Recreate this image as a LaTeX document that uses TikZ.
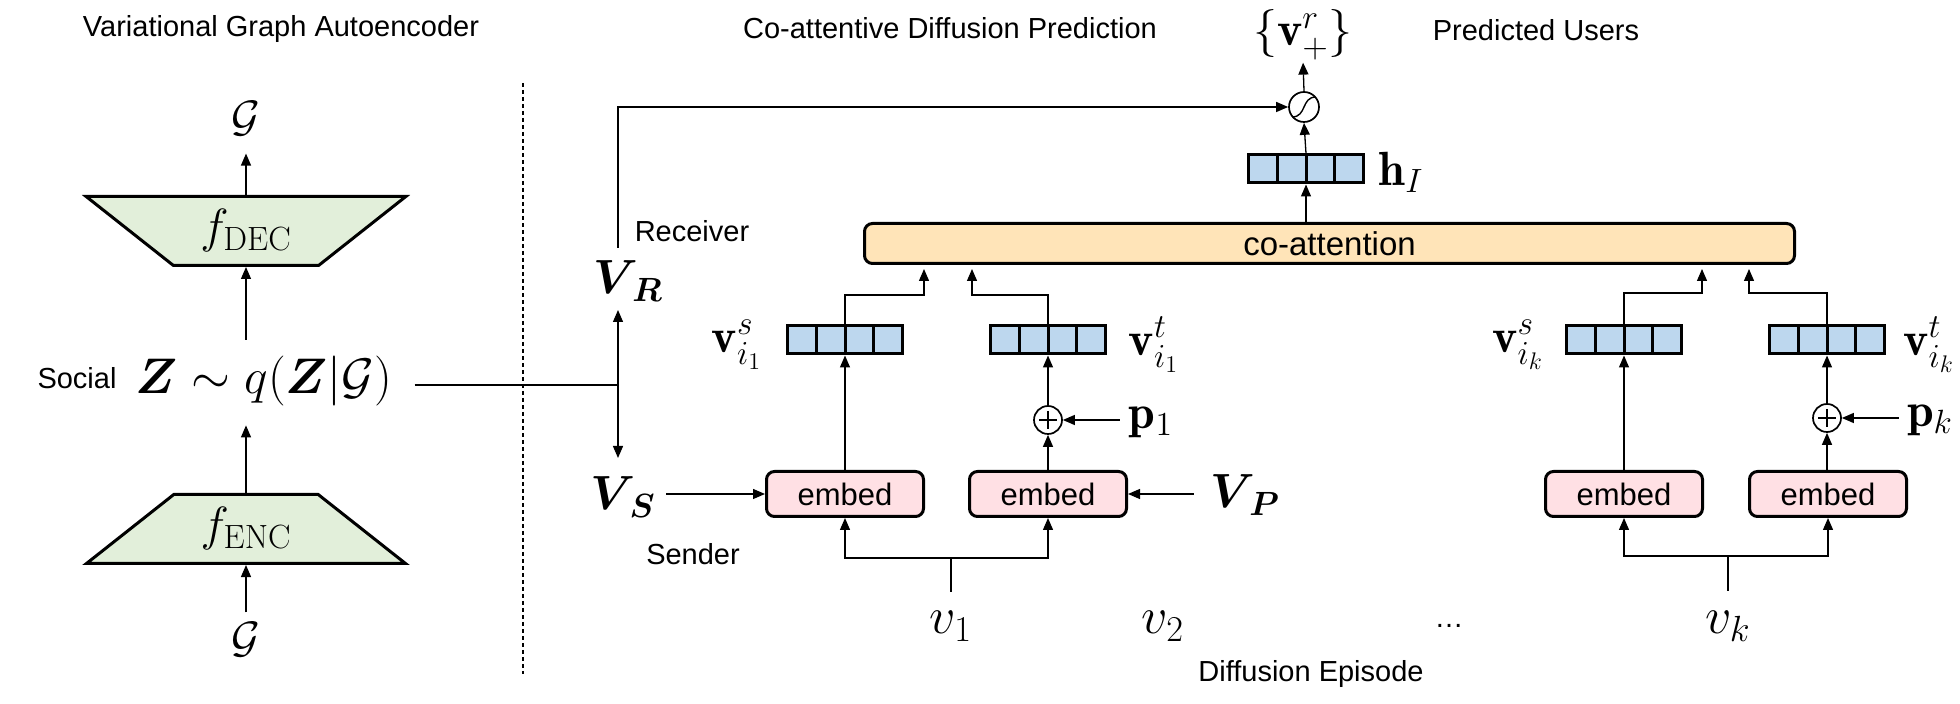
\RequirePackage{fix-cm}
\documentclass[tikz,border=0pt]{standalone}
\usepackage{amsmath}
\usepackage{fontspec}
\newfontfamily\labfont{Liberation Sans}
\usetikzlibrary{arrows.meta,shapes.geometric,calc}
\definecolor{vblue}{RGB}{189,215,238}
\definecolor{tgreen}{RGB}{226,239,218}
\definecolor{corange}{RGB}{255,228,184}
\definecolor{epink}{RGB}{255,224,228}
\newcommand\lab{\labfont\fontsize{14.5}{17}\selectfont}
\begin{document}
\begin{tikzpicture}[x=0.5pt,y=-0.5pt,
 conn/.style={line width=0.65pt},
 arr/.style={conn,-{Triangle[length=6pt,width=5pt]}},
 arrb/.style={conn,{Triangle[length=6pt,width=5pt]}-{Triangle[length=6pt,width=5pt]}},
 lab/.style={inner sep=0, font=\lab},
 m22/.style={inner sep=0, font=\fontsize{22}{26}\selectfont},
 m24/.style={inner sep=0, font=\fontsize{24}{28}\selectfont},
 m25/.style={inner sep=0, font=\fontsize{25}{29}\selectfont},
 m26/.style={inner sep=0, font=\fontsize{26}{30}\selectfont},
 trap/.style={trapezium, draw, line width=1.5pt, fill=tgreen, trapezium left angle=37.8, trapezium right angle=37.8, trapezium stretches=true, minimum width=160.5pt, minimum height=34.5pt, inner sep=0, font=\fontsize{24}{28}\selectfont},
 vec/.style={draw, line width=1.5pt, fill=vblue, minimum width=57.5pt, minimum height=14pt, inner sep=0,
   path picture={\foreach \f in {0.25,0.5,0.75}{\draw[line width=1.5pt] ($(path picture bounding box.north west)!\f!(path picture bounding box.north east)$) -- ($(path picture bounding box.south west)!\f!(path picture bounding box.south east)$);}}},
 emb/.style={draw, line width=1.5pt, fill=epink, rounded corners=4pt, minimum width=78.5pt, minimum height=22.5pt, inner sep=0, font=\labfont\fontsize{15.5}{18}\selectfont},
 coatt/.style={draw, line width=1.5pt, fill=corange, rounded corners=4pt, minimum width=465pt, minimum height=20pt, inner sep=0, font=\labfont\fontsize{16.5}{19}\selectfont},
 sig/.style={circle, draw, line width=0.85pt, minimum size=15pt, inner sep=0, fill=white,
   path picture={\draw[line width=0.7pt] ($(path picture bounding box.center)+(-12,10)$) .. controls ($(path picture bounding box.center)+(3,10)$) and ($(path picture bounding box.center)+(-3,-10)$) .. ($(path picture bounding box.center)+(12,-10)$);}},
 opl/.style={circle, draw, line width=0.85pt, minimum size=14pt, inner sep=0, fill=white,
   path picture={\draw[line width=0.6pt] ($(path picture bounding box.center)+(-9,0)$) -- ($(path picture bounding box.center)+(9,0)$) ($(path picture bounding box.center)+(0,-9)$) -- ($(path picture bounding box.center)+(0,9)$);}},
 dotl/.style={line width=0.6pt, dash pattern=on 2pt off 1.5pt}
]
\useasboundingbox (0,0) rectangle (1960,704);
% titles
\node[lab] (t1) at (281,29) {Variational Graph Autoencoder};
\node[lab] (t2) at (950,28) {Co-attentive Diffusion Prediction};
\node[lab] (t3) at (1536,30) {Predicted Users};
% left panel
\node[m22] (Gt) at (246,119) {$\mathcal{G}$};
\node[trap, shape border rotate=180] (dec) at (246,231) {$f_{\mathrm{DEC}}$};
\node[m25] (zq) at (264,381) {$\boldsymbol{Z}\sim q(\boldsymbol{Z}|\mathcal{G})$};
\node[lab] (soc) at (77,378) {Social};
\node[trap] (enc) at (246,529) {$f_{\mathrm{ENC}}$};
\node[m22] (Gb) at (246,640) {$\mathcal{G}$};
\draw[arr, shorten >=8.5pt] (dec.90) -- (dec.90 |- Gt.south);
\draw[arr, shorten <=8pt] (zq.north -| dec.270) -- (dec.270);
\draw[arr, shorten >=9.5pt] (enc.90) -- (enc.90 |- zq.south);
\draw[arr, shorten <=5pt] (Gb.north) -- (enc.270);
% divider
\coordinate (d1) at (523,83);
\coordinate (d2) at (523,674);
\draw[dotl] (d1) -- (d2);
% receiver / sender
\coordinate (J) at (618,385);
\draw[conn, shorten <=11pt] (zq.east |- J) -- (J);
\node[m24] (VR) at (628,281) {$\boldsymbol{V}_{\!\boldsymbol{R}}$};
\node[m24] (VS) at (623,497) {$\boldsymbol{V}_{\!\boldsymbol{S}}$};
\node[lab] (rec) at (692,231) {Receiver};
\node[lab] (snd) at (693,554) {Sender};
\coordinate (rt) at (618,248);
\coordinate (rb) at (618,310);
\coordinate (st) at (618,458);
\draw[arrb] (rb) -- (st);
% prediction head
\node[sig] (sig) at (1304,107) {};
\draw[arr] (rt) |- (sig.west);
\node[m24] (vp) at (1303,35) {$\{\mathbf{v}^r_+\}$};
\draw[arr, shorten >=1pt] (sig.north) -- (vp.south);
\node[vec] (hI) at (1306,169) {};
\node[m24] (hIl) at (1401,172) {$\mathbf{h}_I$};
\draw[arr] (hI.north) -- (sig.south);
\node[coatt] (co) at (1329.5,243.5) {co-attention};
\draw[arr] (co.north -| hI) -- (hI.south);
% embeds and vectors
\node[emb] (e1) at (845,494) {embed};
\node[emb] (e2) at (1048,494) {embed};
\node[emb] (e3) at (1624,494) {embed};
\node[emb] (e4) at (1828,494) {embed};
\node[vec] (vs1) at (845,340) {};
\node[vec] (vt1) at (1048,340) {};
\node[vec] (vsk) at (1624,340) {};
\node[vec] (vtk) at (1827,340) {};
\node[m24] (vs1l) at (737,345) {$\mathbf{v}^s_{i_1}$};
\node[m24] (vt1l) at (1154,345) {$\mathbf{v}^t_{i_1}$};
\node[m24] (vskl) at (1518,345) {$\mathbf{v}^s_{i_k}$};
\node[m24] (vtkl) at (1929,345) {$\mathbf{v}^t_{i_k}$};
\node[opl] (o1) at (1048,420) {};
\node[opl] (ok) at (1827,418) {};
\node[m24] (p1) at (1151,422) {$\mathbf{p}_1$};
\node[m24] (pk) at (1930,420) {$\mathbf{p}_k$};
\node[m24] (VP) at (1245,495) {$\boldsymbol{V}_{\!\boldsymbol{P}}$};
\draw[arr] (e1.north) -- (vs1.south);
\draw[arr] (e3.north) -- (vsk.south);
\draw[arr] (e2.north) -- (o1.south);
\draw[arr] (o1.north) -- (vt1.south);
\draw[arr] (e4.north -| ok) -- (ok.south);
\draw[arr] (ok.north) -- (vtk.south);
\draw[arr, shorten <=4.5pt] (p1.west |- o1) -- (o1.east);
\draw[arr, shorten <=4pt] (pk.west |- ok) -- (ok.east);
\draw[arr, shorten <=5pt] (VS.east |- e1) -- (e1.west);
\draw[arr, shorten <=8pt] (VP.west |- e2) -- (e2.east);
% into co-attention
\coordinate (a1) at (924,295);
\coordinate (a2) at (972,295);
\coordinate (a3) at (1702,293);
\coordinate (a4) at (1749,293);
\draw[arr, shorten >=2pt] (vs1.north) |- (a1) -- (a1 |- co.south);
\draw[arr, shorten >=2pt] (vt1.north) |- (a2) -- (a2 |- co.south);
\draw[arr, shorten >=2pt] (vsk.north) |- (a3) -- (a3 |- co.south);
\draw[arr, shorten >=2pt] (vtk.north) |- (a4) -- (a4 |- co.south);
% diffusion episode
\node[m26] (v1) at (951,626) {$v_1$};
\node[m26] (v2) at (1163,626) {$v_2$};
\node[lab] (dots) at (1449,626) {…};
\node[m26] (vk) at (1728,626) {$v_k$};
\node[lab] (de) at (1311,674) {Diffusion Episode};
\coordinate (j1) at (951,558);
\coordinate (j1b) at (951,592);
\coordinate (jk) at (1728,556);
\coordinate (jkb) at (1728,591);
\draw[conn] (j1b) -- (j1);
\draw[arr] (j1) -| (e1.south);
\draw[arr] (j1) -| (e2.south);
\draw[conn] (jkb) -- (jk);
\draw[arr] (jk) -| (e3.south);
\draw[arr] (jk) -| (e4.south);
\end{tikzpicture}
\end{document}
